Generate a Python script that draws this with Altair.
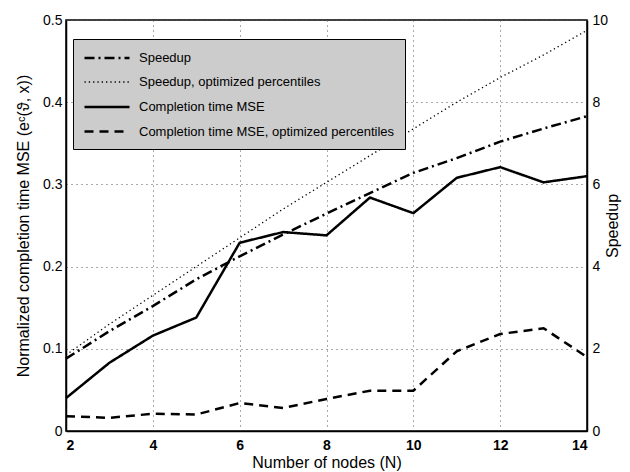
import altair as alt
import pandas as pd

nodes = list(range(2, 15))
speedup = [1.76, 2.43, 3.04, 3.69, 4.25, 4.78, 5.29, 5.79, 6.28, 6.64, 7.04, 7.36, 7.66]
speedup_opt = [1.85, 2.6, 3.3, 4.0, 4.7, 5.4, 6.05, 6.7, 7.35, 8.0, 8.6, 9.15, 9.75]
mse = [0.040, 0.083, 0.116, 0.138, 0.229, 0.242, 0.238, 0.284, 0.265, 0.308, 0.321, 0.3025, 0.310]
mse_opt = [0.018, 0.016, 0.021, 0.020, 0.034, 0.028, 0.039, 0.049, 0.049, 0.097, 0.118, 0.125, 0.090]

series_names = [
    "Speedup",
    "Speedup, optimized percentiles",
    "Completion time MSE",
    "Completion time MSE, optimized percentiles",
]
x_ticks = [2, 4, 6, 8, 10, 12, 14]
left_ticks = [0, 0.1, 0.2, 0.3, 0.4, 0.5]
right_ticks = [0, 2, 4, 6, 8, 10]

rows = []
for name, vals in zip(series_names, [speedup, speedup_opt, mse, mse_opt]):
    for n, v in zip(nodes, vals):
        rows.append({"N": n, "value": v, "series": name})
df = pd.DataFrame(rows)

FONT = "Liberation Sans"

dash_scale = alt.Scale(
    domain=series_names,
    range=[[10, 4, 2, 4], [1.3, 3], [1, 0], [9, 6]],
)
width_scale = alt.Scale(type="ordinal", domain=series_names, range=[2.5, 1.3, 2.5, 2.5])

legend = alt.Legend(
    title=None,
    orient="none",
    legendX=7,
    legendY=19,
    fillColor="#cccccc",
    strokeColor="black",
    padding=10,
    symbolType="M-1,0H5",
    symbolSize=225,
    symbolStrokeColor="black",
    labelFont=FONT,
    labelFontSize=13,
    labelColor="black",
    labelLimit=400,
    labelOffset=38,
    rowPadding=8.5,
)

x_enc = alt.X(
    "N:Q",
    scale=alt.Scale(domain=[2, 14], nice=False),
    axis=alt.Axis(
        values=x_ticks,
        title="Number of nodes (N)",
        labelFontWeight="bold",
        grid=True,
        ticks=False,
        labelPadding=7,
        titlePadding=2,
    ),
)

base = alt.Chart(df)

left = base.transform_filter(
    alt.FieldOneOfPredicate(field="series", oneOf=series_names[2:])
).mark_line(color="black").encode(
    x=x_enc,
    y=alt.Y(
        "value:Q",
        scale=alt.Scale(domain=[0, 0.5], nice=False),
        axis=alt.Axis(
            values=left_ticks,
            title="Normalized completion time MSE (eᶜ(ϑ, x))",
            labelExpr="datum.value == 0 ? '0' : format(datum.value, '.1f')",
            grid=True,
            ticks=False,
            labelPadding=4,
            titlePadding=11,
        ),
    ),
    strokeDash=alt.StrokeDash("series:N", scale=dash_scale, legend=legend),
    strokeWidth=alt.StrokeWidth("series:N", scale=width_scale, legend=legend),
)

right = base.transform_filter(
    alt.FieldOneOfPredicate(field="series", oneOf=series_names[:2])
).mark_line(color="black").encode(
    x=x_enc,
    y=alt.Y(
        "value:Q",
        scale=alt.Scale(domain=[0, 10], nice=False),
        axis=alt.Axis(
            values=right_ticks,
            orient="right",
            title="Speedup",
            titleAngle=270,
            titleBaseline="bottom",
            grid=False,
            ticks=False,
            labelPadding=5,
            titlePadding=13,
        ),
    ),
    strokeDash=alt.StrokeDash("series:N", scale=dash_scale, legend=legend),
    strokeWidth=alt.StrokeWidth("series:N", scale=width_scale, legend=legend),
)

chart = (
    alt.layer(left, right)
    .resolve_scale(y="independent")
    .properties(
        width=521,
        height=411,
        autosize=alt.AutoSizeParams(type="none"),
        padding={"left": 66, "top": 20, "right": 43, "bottom": 41},
        background="white",
    )
    .configure_view(stroke="black", strokeWidth=1.5)
    .configure_axis(
        labelFont=FONT,
        labelFontSize=14,
        labelColor="black",
        titleFont=FONT,
        titleFontSize=16,
        titleFontWeight="normal",
        titleColor="black",
        domainColor="black",
        domainWidth=1.5,
        gridColor="#555555",
        gridDash=[1, 4],
        gridWidth=1,
    )
)

chart.save("out.html", embed_options={"renderer": "svg", "actions": False})
